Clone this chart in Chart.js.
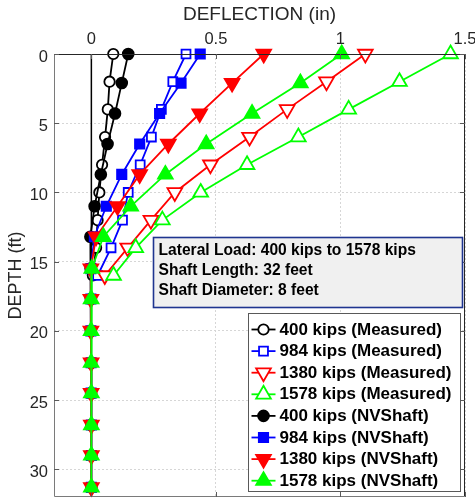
<!DOCTYPE html>
<html>
<head>
<meta charset="utf-8">
<script src="https://cdn.jsdelivr.net/npm/chart.js@4.4.0/dist/chart.umd.min.js"></script>
<style>
  html, body { margin: 0; padding: 0; background: #ffffff; }
  canvas { display: block; }
</style>
</head>
<body>
<canvas id="chart" width="475" height="499"></canvas>
<script>
// Measured deflection profiles (inclinometer readings every 2 ft)
const measuredDepth = [0, 2, 4, 6, 8, 10, 12, 14, 16];
const measured400  = [0.088, 0.073, 0.066, 0.055, 0.043, 0.032, 0.025, 0.019, 0.006];
const measured984  = [0.380, 0.327, 0.281, 0.241, 0.196, 0.148, 0.125, 0.079, 0.025];
const measured1380 = [1.100, 0.944, 0.786, 0.635, 0.478, 0.335, 0.239, 0.146, 0.054];
const measured1578 = [1.442, 1.237, 1.033, 0.831, 0.625, 0.439, 0.285, 0.178, 0.089];

// NVShaft predicted profiles
const nvDepth = [0, 2.1, 4.3, 6.5, 8.7, 11.0, 13.2, 15.5, 17.7, 20.0, 22.3, 24.5, 26.8, 29.0, 31.3];
const nv400  = [0.148, 0.122, 0.095, 0.065, 0.038, 0.013, -0.004, -0.003, -0.002, -0.002, -0.001, -0.001, 0, 0, 0];
const nv984  = [0.437, 0.360, 0.274, 0.194, 0.122, 0.060, 0.012, -0.002, -0.002, -0.002, -0.001, -0.001, 0, 0, 0];
const nv1380 = [0.692, 0.565, 0.435, 0.309, 0.194, 0.105, 0.019, -0.002, -0.002, -0.002, -0.001, -0.001, 0, 0, 0];
const nv1578 = [1.005, 0.839, 0.645, 0.461, 0.297, 0.158, 0.048, 0.002, -0.001, -0.001, -0.001, 0, 0, 0, 0];

// Zero-deflection reference line
const zeroLineDepth = [0, 32];

// Axis ticks
const xTicks = [0, 0.5, 1, 1.5];
const yTicks = [0, 5, 10, 15, 20, 25, 30];

const seriesLabels = [
  '400 kips (Measured)', '984 kips (Measured)', '1380 kips (Measured)', '1578 kips (Measured)',
  '400 kips (NVShaft)', '984 kips (NVShaft)', '1380 kips (NVShaft)', '1578 kips (NVShaft)'
];
const infoLines = [
  'Lateral Load: 400 kips to 1578 kips',
  'Shaft Length: 32 feet',
  'Shaft Diameter: 8 feet'
];

const FONT = '"Liberation Sans", Arial, Helvetica, sans-serif';
const TEXT = '#262626';

const series = [
  { depth: measuredDepth, values: measured400,  color: '#000000', style: 'circle',   rot: 0,   r: 5.2, open: true },
  { depth: measuredDepth, values: measured984,  color: '#0000ff', style: 'rect',     rot: 0,   r: 6.3, open: true },
  { depth: measuredDepth, values: measured1380, color: '#ff0000', style: 'triangle', rot: 180, r: 8.5, open: true },
  { depth: measuredDepth, values: measured1578, color: '#00ff00', style: 'triangle', rot: 0,   r: 8.5, open: true },
  { depth: nvDepth, values: nv400,  color: '#000000', style: 'circle',   rot: 0,   r: 5.4, open: false },
  { depth: nvDepth, values: nv984,  color: '#0000ff', style: 'rect',     rot: 0,   r: 6.6, open: false },
  { depth: nvDepth, values: nv1380, color: '#ff0000', style: 'triangle', rot: 180, r: 8.5, open: false },
  { depth: nvDepth, values: nv1578, color: '#00ff00', style: 'triangle', rot: 0,   r: 8.5, open: false }
];

const datasets = [{
  label: 'zero',
  data: zeroLineDepth.map(d => ({ x: 0, y: d })),
  showLine: true,
  borderColor: '#000000',
  borderWidth: 1.5,
  pointRadius: 0,
  order: 100,
  clip: false
}];
series.forEach((s, i) => {
  datasets.push({
    label: seriesLabels[i],
    data: s.depth.map((d, k) => ({ x: s.values[k], y: d })),
    showLine: true,
    tension: 0,
    borderColor: s.color,
    borderWidth: 1.8,
    pointStyle: s.style,
    pointRotation: s.rot,
    pointRadius: s.r,
    pointBorderWidth: 1.8,
    pointBorderColor: s.color,
    pointBackgroundColor: s.open ? '#ffffff' : s.color,
    order: 50 - i,
    clip: false
  });
});

// Marker drawing for the legend (same geometry as Chart.js point styles)
function drawMarker(ctx, style, rotDeg, r, x, y) {
  const rad = rotDeg * Math.PI / 180;
  ctx.beginPath();
  if (style === 'circle') {
    ctx.arc(x, y, r, 0, Math.PI * 2);
  } else if (style === 'rect') {
    const h = Math.SQRT1_2 * r;
    ctx.rect(x - h, y - h, 2 * h, 2 * h);
  } else {
    let a = rad;
    for (let k = 0; k < 3; k++) {
      const px = x + Math.sin(a) * r, py = y - Math.cos(a) * r;
      if (k === 0) ctx.moveTo(px, py); else ctx.lineTo(px, py);
      a += 2 * Math.PI / 3;
    }
    ctx.closePath();
  }
  ctx.fill();
  ctx.stroke();
}

const framePlugin = {
  id: 'frame',
  afterDatasetsDraw(chart) {
    const { ctx, chartArea: ca, scales } = chart;
    const L = ca.left + 0.5, R = ca.right - 0.5, T = ca.top + 0.5, B = ca.bottom - 0.5;
    ctx.save();
    ctx.lineWidth = 1;
    // top and right edges
    ctx.strokeStyle = '#262626';
    ctx.beginPath();
    ctx.moveTo(L, T); ctx.lineTo(R, T); ctx.lineTo(R, B);
    ctx.stroke();
    // left and bottom edges
    ctx.strokeStyle = '#7a7a7a';
    ctx.beginPath();
    ctx.moveTo(L, T); ctx.lineTo(L, B); ctx.lineTo(R, B);
    ctx.stroke();
    const tl = 5;
    ctx.strokeStyle = '#5a5a5a';
    ctx.beginPath();
    scales.y.ticks.forEach(t => {
      const py = Math.round(scales.y.getPixelForValue(t.value)) + 0.5;
      ctx.moveTo(ca.left, py); ctx.lineTo(ca.left + tl, py);
      ctx.moveTo(ca.right, py); ctx.lineTo(ca.right - tl, py);
    });
    scales.x.ticks.forEach(t => {
      const px = Math.round(scales.x.getPixelForValue(t.value)) + 0.5;
      ctx.moveTo(px, ca.top); ctx.lineTo(px, ca.top + tl);
      ctx.moveTo(px, ca.bottom); ctx.lineTo(px, ca.bottom - tl);
    });
    ctx.stroke();
    ctx.restore();
  },
  afterDraw(chart) {
    const { ctx, chartArea: ca } = chart;
    ctx.save();

    // Information box
    const bx = ca.left + 99.5, by = ca.top + 183.5, bw = 309, bh = 70;
    ctx.fillStyle = '#f0f0f0';
    ctx.fillRect(bx, by, bw, bh);
    ctx.strokeStyle = '#1f3590';
    ctx.lineWidth = 1.6;
    ctx.strokeRect(bx, by, bw, bh);
    ctx.fillStyle = '#000000';
    ctx.font = 'bold 15.6px ' + FONT;
    ctx.textBaseline = 'middle';
    ctx.textAlign = 'left';
    infoLines.forEach((line, i) => ctx.fillText(line, bx + 5, by + 13.5 + i * 20));

    // Legend
    const lw = 212, lh = 178;
    const lx = ca.right - 5 - lw + 0.5, ly = ca.bottom - 6 - lh + 0.5;
    ctx.fillStyle = '#ffffff';
    ctx.fillRect(lx, ly, lw, lh);
    ctx.strokeStyle = '#595959';
    ctx.lineWidth = 1;
    ctx.strokeRect(lx, ly, lw, lh);
    ctx.font = 'bold 17px ' + FONT;
    const items = chart.data.datasets.slice(1);
    items.forEach((ds, i) => {
      const s = series[i];
      const cy = ly + 16 + i * 21.6;
      ctx.strokeStyle = ds.borderColor;
      ctx.lineWidth = 1.8;
      ctx.beginPath();
      ctx.moveTo(lx + 3, cy); ctx.lineTo(lx + 27, cy);
      ctx.stroke();
      ctx.fillStyle = ds.pointBackgroundColor;
      drawMarker(ctx, s.style, s.rot, s.r, lx + 15, cy);
      ctx.fillStyle = '#000000';
      ctx.fillText(ds.label, lx + 31, cy + 0.5);
    });
    ctx.restore();
  }
};

new Chart(document.getElementById('chart'), {
  type: 'scatter',
  data: { datasets },
  options: {
    responsive: false,
    devicePixelRatio: 1,
    animation: false,
    layout: { autoPadding: false, padding: { left: 0, top: 0, right: 10, bottom: 2 } },
    plugins: { legend: { display: false }, tooltip: { enabled: false } },
    scales: {
      x: {
        type: 'linear',
        position: 'top',
        min: -0.15,
        max: 1.5,
        afterBuildTicks: s => { s.ticks = xTicks.map(v => ({ value: v })); },
        afterFit: s => { s.height = 54; s.paddingLeft = 0; s.paddingRight = 0; },
        ticks: {
          callback: v => String(v),
          font: { family: FONT, size: 16.5 },
          color: TEXT,
          padding: 5,
          maxRotation: 0,
          autoSkip: false
        },
        grid: { color: '#d6d6d6', lineWidth: 1, drawTicks: false },
        border: { display: false, dash: [2, 2] },
        title: {
          display: true,
          text: 'DEFLECTION (in)',
          font: { family: FONT, size: 19 },
          color: TEXT,
          padding: { top: 3, bottom: 0 }
        }
      },
      y: {
        type: 'linear',
        position: 'left',
        reverse: true,
        min: 0,
        max: 32,
        afterBuildTicks: s => { s.ticks = yTicks.map(v => ({ value: v })); },
        afterFit: s => { s.width = 54; s.paddingTop = 0; s.paddingBottom = 0; },
        ticks: {
          callback: v => String(v),
          font: { family: FONT, size: 16.5 },
          color: TEXT,
          padding: 6,
          labelOffset: 3,
          autoSkip: false
        },
        grid: { color: '#d6d6d6', lineWidth: 1, drawTicks: false },
        border: { display: false, dash: [2, 2] },
        title: {
          display: true,
          text: 'DEPTH (ft)',
          font: { family: FONT, size: 18 },
          color: TEXT,
          padding: { top: 5, bottom: 0 }
        }
      }
    }
  },
  plugins: [framePlugin]
});
</script>
</body>
</html>
